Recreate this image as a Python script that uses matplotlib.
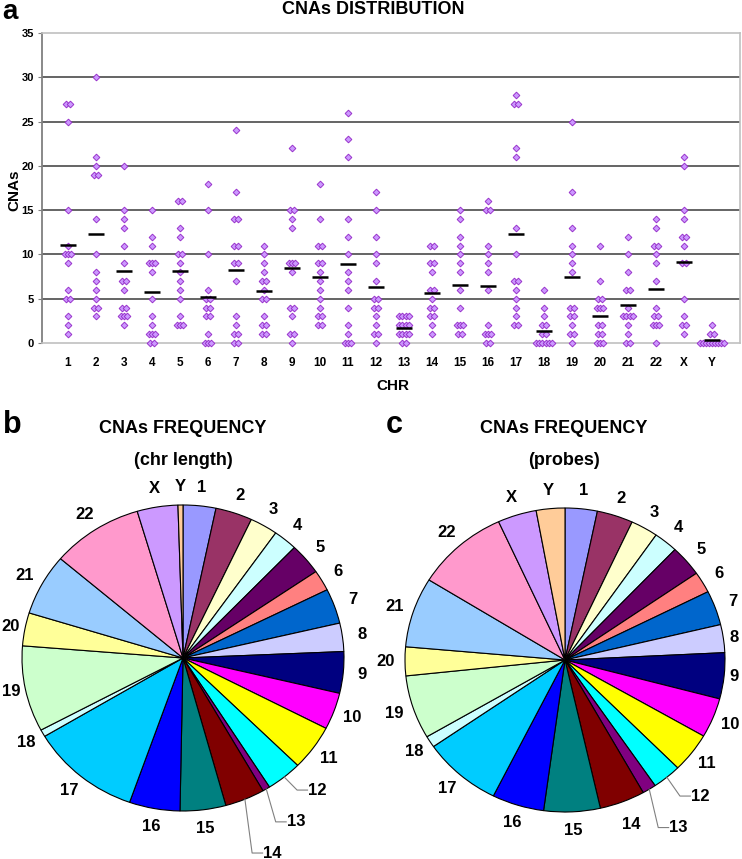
import numpy as np
import matplotlib
matplotlib.use('Agg')
import matplotlib.pyplot as plt

plt.rcParams['font.family'] = ['Liberation Sans', 'DejaVu Sans']
plt.rcParams['font.weight'] = 'bold'

# ---------------- data ----------------
chromosomes = [str(i) for i in range(1, 23)] + ['X', 'Y']

cnas_per_chr = [
    [27, 27, 25, 15, 11, 10, 10, 10, 9, 6, 5, 5, 3, 2, 1],          # 1
    [30, 21, 20, 19, 19, 14, 10, 8, 7, 6, 5, 4, 4, 3],              # 2
    [20, 15, 14, 13, 11, 9, 7, 7, 6, 4, 4, 3, 3, 3, 2],             # 3
    [15, 12, 11, 9, 9, 9, 8, 5, 3, 2, 1, 1, 1, 0, 0],               # 4
    [16, 16, 13, 12, 10, 10, 9, 8, 7, 6, 5, 3, 2, 2, 2],            # 5
    [18, 15, 10, 6, 5, 5, 4, 4, 3, 3, 1, 0, 0, 0],                  # 6
    [24, 17, 14, 14, 11, 11, 9, 9, 7, 3, 2, 1, 1, 0, 0],            # 7
    [11, 10, 9, 8, 7, 7, 6, 5, 5, 3, 2, 2, 1, 1],                   # 8
    [22, 15, 15, 14, 13, 9, 9, 9, 8, 4, 4, 3, 1, 1, 0],             # 9
    [18, 14, 11, 11, 9, 9, 8, 7, 6, 5, 4, 3, 3, 2, 2],              # 10
    [26, 23, 21, 14, 12, 10, 8, 7, 6, 4, 2, 1, 0, 0, 0],            # 11
    [17, 15, 12, 10, 9, 7, 5, 5, 4, 4, 3, 2, 1, 1, 0],              # 12
    [3, 3, 3, 3, 2, 2, 2, 2, 1, 1, 1, 1, 0, 0],                     # 13
    [11, 11, 9, 9, 8, 6, 6, 5, 4, 4, 3, 3, 2, 1],                   # 14
    [15, 14, 12, 11, 10, 9, 8, 6, 4, 2, 2, 2, 1, 1],                # 15
    [16, 15, 15, 11, 10, 9, 8, 6, 2, 1, 1, 1, 0, 0],                # 16
    [28, 27, 27, 22, 21, 13, 10, 7, 7, 6, 5, 4, 3, 2, 2],           # 17
    [6, 4, 3, 2, 2, 1, 1, 0, 0, 0, 0, 0, 0],                        # 18
    [25, 17, 13, 11, 10, 9, 8, 4, 4, 3, 3, 2, 1, 1, 0],             # 19
    [11, 7, 5, 5, 4, 4, 4, 2, 2, 1, 1, 0, 0, 0],                    # 20
    [12, 10, 8, 6, 6, 4, 3, 3, 3, 3, 2, 1, 0, 0],                   # 21
    [14, 13, 11, 11, 10, 9, 7, 4, 3, 3, 2, 2, 2, 0],                # 22
    [21, 20, 15, 14, 12, 12, 11, 9, 9, 5, 3, 2, 2, 1],              # X
    [2, 1, 1, 0, 0, 0, 0, 0, 0, 0, 0, 0],                           # Y
]

mean_cnas = [11.05, 12.35, 8.1, 5.75, 8.1, 5.25, 8.2, 5.85, 8.45, 7.45,
             8.95, 6.35, 1.65, 5.7, 6.6, 6.45, 12.3, 1.35, 7.45, 3.0,
             4.3, 6.15, 9.2, 0.35]

# pie percentages
freq_chr_length = [3.3, 3.7, 2.8, 2.4, 3.3, 2.2, 3.7, 3.0, 4.4, 3.9, 4.8, 3.6,
                   0.75, 4.0, 4.6, 5.1, 11.1, 0.75, 9.1, 3.5, 6.5, 9.2, 4.1, 0.5]
freq_probes = [3.25, 3.64, 2.75, 2.42, 3.28, 2.25, 3.67, 2.97, 4.89, 4.22, 4.22, 2.92,
               1.39, 4.58, 5.69, 5.25, 7.97, 1.22, 6.75, 3.06, 7.44, 9.36, 3.92, 2.89]

pie_colors = ['#9999FF', '#993366', '#FFFFCC', '#CCFFFF', '#660066', '#FF8080',
              '#0066CC', '#CCCCFF', '#000080', '#FF00FF', '#FFFF00', '#00FFFF',
              '#800080', '#800000', '#008080', '#0000FF', '#00CCFF', '#CCFFFF',
              '#CCFFCC', '#FFFF99', '#99CCFF', '#FF99CC', '#CC99FF', '#FFCC99']

# ---------------- figure ----------------
W, H = 742, 859
fig = plt.figure(figsize=(W / 100, H / 100), dpi=100)
fig.patch.set_facecolor('white')


def fy(py):
    return 1 - py / H


# ---- panel a: scatter ----
ax = fig.add_axes([42 / W, fy(343), 698 / W, 310 / H])
xs = np.arange(1, len(chromosomes) + 1)
px, py = [], []
for xi, vals in zip(xs, cnas_per_chr):
    vals = np.asarray(vals)
    for v in np.unique(vals):
        k = int(np.sum(vals == v))
        offs = (np.arange(k) - (k - 1) / 2) * 0.11
        px.extend(xi + offs)
        py.extend([v] * k)
ax.plot(px, py, 'D', ms=3.4, mfc='#cc99ff', mec='#9933cc', mew=0.7,
        linestyle='none', zorder=3, clip_on=False)
ax.hlines(mean_cnas, xs - 0.3, xs + 0.3, color='black', lw=1.8, zorder=4)

ax.set_xlim(0.07, 25.0)
ax.set_ylim(0, 35)
ax.set_yticks(np.arange(0, 36, 5))
ax.set_xticks(xs)
ax.set_xticklabels(chromosomes)
for g in range(5, 35, 5):
    ax.axhline(g, color='#4a4a4a', lw=1.2, zorder=1)
for s in ['top', 'right', 'bottom']:
    ax.spines[s].set_color('#c0c0c0')
    ax.spines[s].set_linewidth(1.2)
ax.spines['left'].set_color('#808080')
ax.spines['left'].set_linewidth(1.3)
ax.tick_params(axis='y', length=3, color='#808080', labelsize=8, pad=3)
ax.tick_params(axis='x', length=0, labelsize=8.5, pad=10)

fig.text(2 / W, fy(19), 'a', fontsize=20, fontweight='bold', ha='left', va='baseline')
fig.text(373 / W, fy(14), 'CNAs DISTRIBUTION', fontsize=13, fontweight='bold',
         ha='center', va='baseline')
fig.text(14 / W, fy(190), 'CNAs', fontsize=11, fontweight='bold', rotation=90,
         ha='center', va='center')
fig.text(393 / W, fy(386), 'CHR', fontsize=11, fontweight='bold',
         ha='center', va='center')


# ---- pies ----
def draw_pie(rect, values, overrides):
    pax = fig.add_axes(rect)
    wedges, _ = pax.pie(values, colors=pie_colors, startangle=90, counterclock=False,
                        wedgeprops=dict(edgecolor='black', linewidth=0.8))
    pax.set_aspect('auto')
    pax.set_xlim(-1, 1)
    pax.set_ylim(-1, 1)
    for w in wedges:
        w.set_clip_on(False)
    for lab, w in zip(chromosomes, wedges):
        mid = np.deg2rad((w.theta1 + w.theta2) / 2)
        d, ang, leader = 1.12, mid, False
        if lab in overrides:
            d, a, leader = overrides[lab]
            if a is not None:
                ang = np.deg2rad(a)
        lx, ly = d * np.cos(ang), d * np.sin(ang)
        pax.text(lx, ly, lab, fontsize=12, fontweight='bold', ha='center', va='center',
                 clip_on=False)
        if leader:
            rx, ry = np.cos(mid), np.sin(mid)
            pax.plot([rx, lx - 0.125, lx - 0.06], [ry, ly, ly], color='#808080',
                     lw=0.8, clip_on=False)
    return pax


draw_pie([(183 - 161) / W, fy(658 + 153), 322 / W, 306 / H], freq_chr_length,
         {'12': (1.20, -46, True), '13': (1.28, -56.8, True), '14': (1.39, -66.5, True),
          '19': (1.09, None, False), '20': (1.09, None, False)})
draw_pie([(565 - 160) / W, fy(660 + 152), 320 / W, 304 / H], freq_probes,
         {'12': (1.23, -46.7, True), '13': (1.31, -57.3, True), '14': (1.16, None, False),
          '8': (1.07, None, False), '9': (1.06, None, False)})

fig.text(3 / W, fy(433), 'b', fontsize=22, fontweight='bold', ha='left', va='baseline')
fig.text(386 / W, fy(433), 'c', fontsize=22, fontweight='bold', ha='left', va='baseline')
fig.text(183 / W, fy(433), 'CNAs FREQUENCY', fontsize=13, fontweight='bold',
         ha='center', va='baseline')
fig.text(183 / W, fy(465), '(chr length)', fontsize=13, fontweight='bold',
         ha='center', va='baseline')
fig.text(564 / W, fy(433), 'CNAs FREQUENCY', fontsize=13, fontweight='bold',
         ha='center', va='baseline')
fig.text(564 / W, fy(465), '(probes)', fontsize=13, fontweight='bold',
         ha='center', va='baseline')

fig.savefig('out.png', dpi=100, facecolor='white')
